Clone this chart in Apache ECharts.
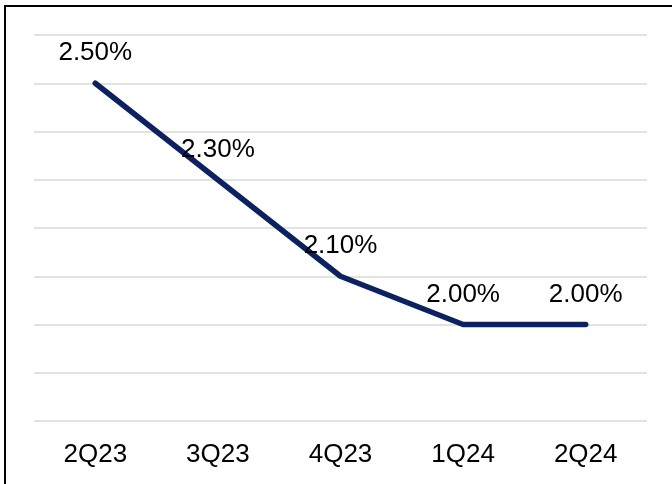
<!DOCTYPE html>
<html>
<head>
<meta charset="utf-8">
<script src="https://cdn.jsdelivr.net/npm/echarts@6/dist/echarts.min.js"></script>
<style>html,body{margin:0;padding:0;background:#fff}#c{width:672px;height:484px}</style>
</head>
<body>
<div id="c"></div>
<script>
const categories = ['2Q23', '3Q23', '4Q23', '1Q24', '2Q24'];
const rates = [2.5, 2.3, 2.1, 2.0, 2.0];
const yMin = 1.8, yMax = 2.6, yStep = 0.1;

const chart = echarts.init(document.getElementById('c'), null, {renderer: 'canvas'});
chart.setOption({
  animation: false,
  backgroundColor: '#fff',
  grid: {left: 34, right: 25, top: 35, bottom: 63, containLabel: false},
  xAxis: {
    type: 'category',
    data: categories,
    boundaryGap: true,
    axisLine: {show: false},
    axisTick: {show: false},
    axisLabel: {color: '#000', fontFamily: 'Liberation Sans, Arial, sans-serif', fontSize: 26, margin: 21}
  },
  yAxis: {
    type: 'value',
    min: yMin, max: yMax, interval: yStep,
    axisLine: {show: false},
    axisTick: {show: false},
    axisLabel: {show: false},
    splitLine: {show: true, lineStyle: {color: '#d9d9d9', width: 1.5}}
  },
  series: [{
    type: 'line',
    data: rates,
    symbol: 'circle',
    showSymbol: true,
    symbolSize: 2,
    itemStyle: {color: 'rgba(0,0,0,0)', borderColor: 'rgba(0,0,0,0)', borderWidth: 0},
    lineStyle: {color: '#0b2160', width: 5.5, cap: 'round', join: 'round'},
    label: {
      show: true,
      position: 'top',
      distance: 16,
      color: '#000',
      opacity: 1,
      fontFamily: 'Liberation Sans, Arial, sans-serif',
      fontSize: 26,
      formatter: p => p.value.toFixed(2) + '%'
    },
    labelLayout: {hideOverlap: false}
  }],
  graphic: [{
    type: 'rect',
    shape: {x: 5, y: 6, width: 700, height: 500},
    style: {fill: 'none', stroke: '#000', lineWidth: 2},
    z: 10
  }]
});
</script>
</body>
</html>
